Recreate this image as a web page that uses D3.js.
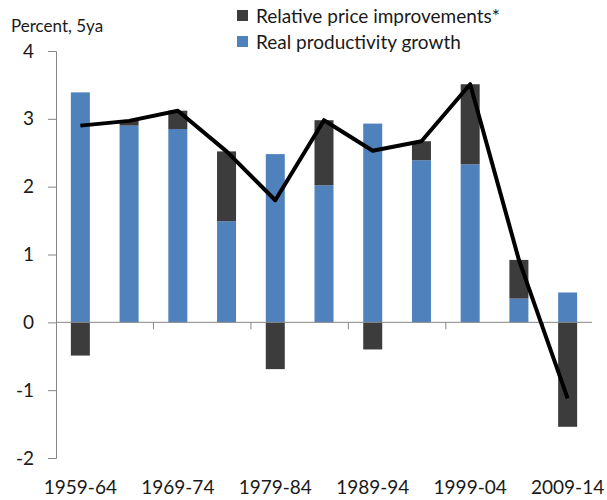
<!DOCTYPE html>
<html>
<head>
<meta charset="utf-8">
<script src="https://cdn.jsdelivr.net/npm/d3@7"></script>
<style>
  body { margin: 0; background: #fff; }
  svg text { font-family: Lato, "Open Sans", sans-serif; fill: #1a1a1a; }
</style>
</head>
<body>
<svg id="chart" width="607" height="500"></svg>
<script>
// chart data
const periods = ['1959-64', '1964-69', '1969-74', '1974-79', '1979-84', '1984-89',
                 '1989-94', '1994-99', '1999-04', '2004-09', '2009-14'];
const productivity = [3.39, 2.90, 2.85, 1.49, 2.48, 2.02, 2.93, 2.39, 2.33, 0.35, 0.44];
const pricePart = [-0.49, 0.08, 0.27, 1.03, -0.69, 0.96, -0.40, 0.28, 1.18, 0.57, -1.54];
const totals = [2.90, 2.97, 3.12, 2.52, 1.80, 2.98, 2.53, 2.67, 3.51, 0.92, -1.12];
const yTicks = [-2, -1, 0, 1, 2, 3, 4];
const xLabels = ['1959-64', '1969-74', '1979-84', '1989-94', '1999-04', '2009-14'];

const svg = d3.select('#chart');
const plotLeft = 56, plotRight = 592, plotTop = 51, plotBottom = 458;

const x = d3.scaleBand().domain(periods).range([plotLeft, plotRight]).paddingInner(0.61).paddingOuter(0.305);
const band = d3.scaleBand().domain(periods).range([plotLeft, plotRight]);
const y = d3.scaleLinear().domain([-2, 4]).range([plotBottom, plotTop]);

// y axis (plain hyphen for negatives, like the original)
const yAxis = svg.append('g')
    .attr('transform', `translate(${plotLeft},0)`)
    .call(d3.axisLeft(y).tickValues(yTicks).tickSize(8).tickPadding(14).tickFormat(d => String(d)));
yAxis.select('.domain').attr('stroke', '#868686');
yAxis.selectAll('.tick line').attr('stroke', '#868686');
yAxis.selectAll('text').style('font-size', '19px').attr('fill', '#1a1a1a');

// bars: blue starts at zero, dark stacks on top when positive or hangs below zero
svg.append('g').selectAll('rect.prod')
    .data(periods)
    .join('rect')
    .attr('class', 'prod')
    .attr('x', d => x(d))
    .attr('width', x.bandwidth())
    .attr('y', (d, i) => y(productivity[i]))
    .attr('height', (d, i) => y(0) - y(productivity[i]))
    .attr('fill', '#4f81bd');

svg.append('g').selectAll('rect.price')
    .data(periods)
    .join('rect')
    .attr('class', 'price')
    .attr('x', d => x(d))
    .attr('width', x.bandwidth())
    .attr('y', (d, i) => pricePart[i] >= 0 ? y(productivity[i] + pricePart[i]) : y(0))
    .attr('height', (d, i) => Math.abs(y(pricePart[i]) - y(0)))
    .attr('fill', '#3c3c3c');

// x axis on zero line
const xAxisG = svg.append('g');
xAxisG.append('line')
    .attr('x1', plotLeft).attr('x2', plotRight)
    .attr('y1', y(0)).attr('y2', y(0))
    .attr('stroke', '#868686');
xAxisG.selectAll('line.tick')
    .data(periods.filter((d, i) => i > 0 && i % 2 === 0))
    .join('line')
    .attr('class', 'tick')
    .attr('x1', d => band(d)).attr('x2', d => band(d))
    .attr('y1', y(0)).attr('y2', y(0) + 7)
    .attr('stroke', '#868686');

svg.append('g').selectAll('text')
    .data(xLabels)
    .join('text')
    .attr('x', d => band(d) + band.bandwidth() / 2)
    .attr('y', 494)
    .attr('text-anchor', 'middle')
    .style('font-size', '19px')
    .text(d => d);

// total line
const line = d3.line()
    .x((d, i) => band(periods[i]) + band.bandwidth() / 2)
    .y(d => y(d));
svg.append('path')
    .datum(totals)
    .attr('d', line)
    .attr('fill', 'none')
    .attr('stroke', '#000')
    .attr('stroke-width', 4)
    .attr('stroke-linejoin', 'round');

// axis title
svg.append('text')
    .attr('x', 11).attr('y', 32)
    .style('font-size', '17px')
    .text('Percent, 5ya');

// legend
const legendItems = [
    { label: 'Relative price improvements*', color: '#3c3c3c' },
    { label: 'Real productivity growth', color: '#4f81bd' }
];
const legend = svg.append('g');
legendItems.forEach((item, i) => {
    const g = legend.append('g').attr('transform', `translate(237, ${10 + i * 26})`);
    g.append('rect').attr('width', 11).attr('height', 11).attr('fill', item.color);
    g.append('text')
        .attr('x', 19).attr('y', 13)
        .style('font-size', '19px')
        .text(item.label);
});
</script>
</body>
</html>
